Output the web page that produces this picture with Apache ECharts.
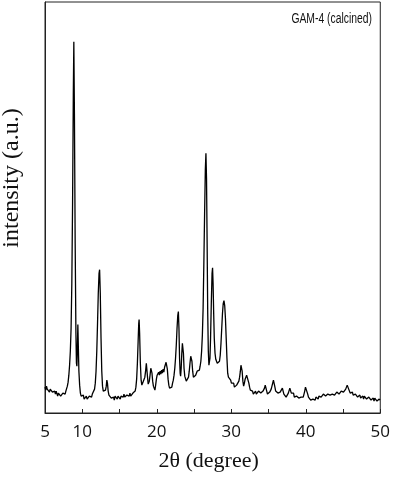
<!DOCTYPE html>
<html>
<head>
<meta charset="utf-8">
<script src="https://cdn.jsdelivr.net/npm/echarts@6/dist/echarts.min.js"></script>
<style>
    html, body { margin: 0; padding: 0; background: #fff; }
    #chart { width: 393px; height: 477px; }
</style>
</head>
<body>
<div id="chart"></div>
<script>
// XRD scan, [2theta, intensity]
var scan5to10 = [
    [5.0, 26], [5.1, 23], [5.2, 27], [5.3, 24], [5.4, 22], [5.5, 25], [5.6, 21], [5.7, 24], [5.8, 22], [5.9, 25],
    [6.0, 21], [6.1, 23], [6.2, 20], [6.3, 22], [6.4, 19], [6.5, 22], [6.6, 20], [6.7, 17], [6.8, 20], [6.9, 18],
    [7.0, 21], [7.1, 17], [7.2, 19], [7.3, 16], [7.4, 20], [7.5, 18], [7.6, 21], [7.7, 19], [7.8, 22], [7.9, 24],
    [8.0, 27], [8.1, 31], [8.2, 38], [8.3, 48], [8.4, 62], [8.5, 85], [8.6, 130], [8.7, 210], [8.8, 320], [8.87, 373],
    [8.95, 300], [9.05, 170], [9.15, 80], [9.22, 50], [9.28, 47], [9.33, 60], [9.41, 89], [9.48, 65], [9.55, 42],
    [9.65, 28], [9.75, 20], [9.85, 17], [9.95, 19]
];
var scan10to20 = [
    [10.05, 15], [10.15, 18], [10.25, 14], [10.35, 16], [10.45, 13], [10.55, 17], [10.65, 14], [10.75, 16], [10.85, 13],
    [10.95, 17], [11.05, 15], [11.15, 18], [11.25, 16], [11.35, 19], [11.45, 17], [11.55, 21], [11.65, 24], [11.75, 30],
    [11.85, 42], [11.95, 62], [12.05, 90], [12.15, 120], [12.25, 140], [12.33, 144], [12.42, 120], [12.52, 75],
    [12.62, 42], [12.72, 27], [12.82, 22], [12.92, 24], [13.02, 20], [13.12, 23], [13.22, 27], [13.3, 33], [13.38, 30],
    [13.48, 22], [13.58, 18], [13.7, 16], [13.8, 18], [13.9, 15], [14.0, 17], [14.1, 14], [14.2, 16], [14.3, 13],
    [14.4, 17], [14.5, 15], [14.6, 18], [14.7, 14], [14.8, 17], [14.9, 15], [15.0, 18], [15.1, 14], [15.2, 17],
    [15.3, 15], [15.4, 18], [15.5, 16], [15.6, 19], [15.7, 16], [15.8, 18], [15.9, 15], [16.0, 18], [16.1, 16],
    [16.2, 19], [16.3, 17], [16.4, 20], [16.5, 17], [16.6, 19], [16.7, 17], [16.8, 20], [16.9, 18], [17.0, 20],
    [17.1, 22], [17.2, 26], [17.3, 34], [17.4, 50], [17.5, 72], [17.58, 90], [17.63, 94], [17.7, 80], [17.8, 50],
    [17.9, 33], [18.0, 28], [18.1, 27], [18.2, 32], [18.3, 30], [18.4, 36], [18.5, 42], [18.6, 50], [18.68, 48],
    [18.76, 36], [18.85, 29], [18.92, 27], [19.0, 32], [19.1, 38], [19.2, 45], [19.28, 47], [19.36, 40], [19.45, 32],
    [19.55, 27], [19.65, 25], [19.75, 23], [19.85, 28], [19.95, 34]
];
var scan20to30 = [
    [20.05, 38], [20.15, 36], [20.25, 41], [20.35, 38], [20.45, 42], [20.55, 39], [20.65, 43], [20.75, 40], [20.85, 44],
    [20.95, 41], [21.05, 46], [21.15, 48], [21.25, 51], [21.33, 53], [21.42, 44], [21.52, 34], [21.62, 28], [21.72, 25],
    [21.82, 23], [21.92, 27], [22.02, 26], [22.12, 30], [22.22, 33], [22.32, 38], [22.42, 45], [22.52, 55], [22.62, 68],
    [22.72, 85], [22.82, 98], [22.9, 102], [22.98, 85], [23.06, 55], [23.14, 40], [23.2, 37], [23.28, 45], [23.36, 60],
    [23.44, 70], [23.5, 72], [23.58, 60], [23.66, 45], [23.76, 37], [23.86, 35], [23.96, 32], [24.06, 30], [24.16, 33],
    [24.26, 36], [24.36, 42], [24.46, 50], [24.56, 57], [24.64, 59], [24.72, 52], [24.82, 42], [24.92, 36], [25.02, 35],
    [25.12, 34], [25.22, 38], [25.32, 40], [25.42, 42], [25.52, 41], [25.62, 44], [25.72, 43], [25.82, 47], [25.92, 52],
    [26.02, 62], [26.12, 78], [26.22, 105], [26.32, 150], [26.42, 200], [26.52, 245], [26.6, 261], [26.68, 235],
    [26.76, 170], [26.84, 100], [26.92, 62], [27.0, 48], [27.06, 47], [27.14, 55], [27.22, 75], [27.32, 110],
    [27.42, 140], [27.49, 146], [27.56, 130], [27.64, 100], [27.72, 75], [27.82, 60], [27.92, 54], [28.02, 52],
    [28.12, 50], [28.22, 52], [28.32, 50], [28.42, 52], [28.52, 58], [28.62, 70], [28.72, 85], [28.82, 100],
    [28.92, 110], [29.02, 113], [29.12, 108], [29.22, 95], [29.32, 75], [29.42, 55], [29.52, 40], [29.62, 36],
    [29.72, 38], [29.82, 34], [29.92, 33]
];
var scan30to40 = [
    [30.02, 30], [30.12, 32], [30.22, 28], [30.32, 30], [30.42, 26], [30.52, 28], [30.62, 25], [30.72, 28], [30.82, 27],
    [30.92, 30], [31.02, 32], [31.12, 36], [31.22, 42], [31.3, 48], [31.38, 50], [31.46, 42], [31.56, 32], [31.66, 27],
    [31.76, 30], [31.86, 34], [31.96, 36], [32.06, 38], [32.16, 40], [32.26, 36], [32.36, 30], [32.46, 26], [32.56, 23],
    [32.66, 25], [32.76, 21], [32.86, 22], [32.96, 19], [33.06, 21], [33.16, 18], [33.26, 22], [33.36, 19], [33.46, 21],
    [33.56, 18], [33.66, 22], [33.76, 20], [33.86, 23], [33.96, 20], [34.06, 22], [34.16, 19], [34.26, 22], [34.36, 21],
    [34.46, 25], [34.56, 28], [34.66, 26], [34.76, 22], [34.86, 19], [34.96, 21], [35.06, 18], [35.16, 21], [35.26, 20],
    [35.36, 24], [35.46, 27], [35.56, 30], [35.66, 33], [35.76, 31], [35.86, 26], [35.96, 22], [36.06, 20], [36.16, 23],
    [36.26, 20], [36.36, 22], [36.46, 19], [36.56, 21], [36.66, 20], [36.76, 23], [36.86, 25], [36.96, 22], [37.06, 19],
    [37.16, 17], [37.26, 19], [37.36, 16], [37.46, 18], [37.56, 17], [37.66, 20], [37.76, 22], [37.86, 25], [37.96, 23],
    [38.06, 20], [38.16, 21], [38.26, 18], [38.36, 20], [38.46, 16], [38.56, 18], [38.66, 15], [38.76, 17], [38.86, 16],
    [38.96, 18], [39.06, 15], [39.16, 17], [39.26, 14], [39.36, 16], [39.46, 15], [39.56, 17], [39.66, 16], [39.76, 19],
    [39.86, 22], [39.96, 26]
];
var scan40to50 = [
    [40.06, 28], [40.16, 24], [40.26, 19], [40.36, 16], [40.46, 14], [40.56, 15], [40.66, 13], [40.76, 14], [40.86, 12],
    [40.96, 14], [41.06, 13], [41.16, 15], [41.26, 13], [41.36, 16], [41.46, 14], [41.56, 16], [41.66, 14], [41.76, 17],
    [41.86, 15], [41.96, 17], [42.06, 16], [42.16, 18], [42.26, 16], [42.36, 19], [42.46, 17], [42.56, 19], [42.66, 17],
    [42.76, 18], [42.86, 17], [42.96, 19], [43.06, 17], [43.16, 19], [43.26, 18], [43.36, 20], [43.46, 18], [43.56, 19],
    [43.66, 17], [43.76, 20], [43.86, 18], [43.96, 20], [44.06, 18], [44.16, 21], [44.26, 19], [44.36, 21], [44.46, 19],
    [44.56, 21], [44.66, 20], [44.76, 22], [44.86, 20], [44.96, 22], [45.06, 21], [45.16, 23], [45.26, 22], [45.36, 24],
    [45.46, 26], [45.56, 28], [45.66, 27], [45.76, 24], [45.86, 22], [45.96, 20], [46.06, 22], [46.16, 19], [46.26, 21],
    [46.36, 18], [46.46, 20], [46.56, 17], [46.66, 19], [46.76, 17], [46.86, 19], [46.96, 16], [47.06, 18], [47.16, 16],
    [47.26, 18], [47.36, 15], [47.46, 17], [47.56, 15], [47.66, 17], [47.76, 14], [47.86, 17], [47.96, 15], [48.06, 17],
    [48.16, 14], [48.26, 16], [48.36, 13], [48.46, 16], [48.56, 14], [48.66, 16], [48.76, 13], [48.86, 15], [48.96, 13],
    [49.06, 15], [49.16, 12], [49.26, 15], [49.36, 13], [49.46, 15], [49.56, 12], [49.66, 14], [49.76, 12], [49.86, 14],
    [49.96, 13], [50.0, 14]
];
// only these get a label, the other ticks stay bare
var xLabels = [5, 10, 20, 30, 40, 50];

var scan = scan5to10.concat(scan10to20, scan20to30, scan30to40, scan40to50);

var myChart = echarts.init(document.getElementById('chart'));
myChart.setOption({
    animation: false,
    backgroundColor: '#fff',
    grid: {
        left: 45,
        right: 12,
        top: 2,
        bottom: 63,
        show: true,
        borderColor: '#222',
        borderWidth: 1
    },
    graphic: [
        {
            // sample label, narrowed a bit to look like the original Calibri
            type: 'text',
            x: 372,
            y: 19,
            scaleX: 0.74,
            style: {
                text: 'GAM-4 (calcined)',
                font: '14px "Liberation Sans"',
                fill: '#111',
                align: 'right',
                verticalAlign: 'middle'
            }
        },
        {
            type: 'text',
            x: 12,
            y: 178,
            rotation: Math.PI / 2,
            style: {
                text: 'intensity (a.u.)',
                font: '24px "Liberation Serif"',
                fill: '#111',
                align: 'center',
                verticalAlign: 'middle'
            }
        }
    ],
    xAxis: {
        type: 'value',
        min: 5,
        max: 50,
        interval: 5,
        name: '2θ (degree)',
        nameLocation: 'middle',
        nameGap: 37,
        nameTextStyle: {
            fontFamily: 'Liberation Serif',
            fontSize: 22,
            color: '#111',
            padding: [0, 8, 0, 0]
        },
        axisLine: { show: true, lineStyle: { color: '#222', width: 1 } },
        axisTick: { show: true, inside: true, length: 4, lineStyle: { color: '#222' } },
        axisLabel: {
            margin: 11,
            fontFamily: 'Open Sans',
            fontSize: 17,
            color: '#111',
            formatter: function (v) {
                return xLabels.indexOf(v) > -1 ? String(v) : '';
            }
        },
        splitLine: { show: false }
    },
    yAxis: {
        type: 'value',
        min: 0,
        max: 413,
        axisLine: { show: true, lineStyle: { color: '#222', width: 1 } },
        axisTick: { show: false },
        axisLabel: { show: false },
        splitLine: { show: false }
    },
    series: [
        {
            type: 'line',
            data: scan,
            showSymbol: false,
            lineStyle: { color: '#000', width: 1.3 }
        }
    ]
});
</script>
</body>
</html>
